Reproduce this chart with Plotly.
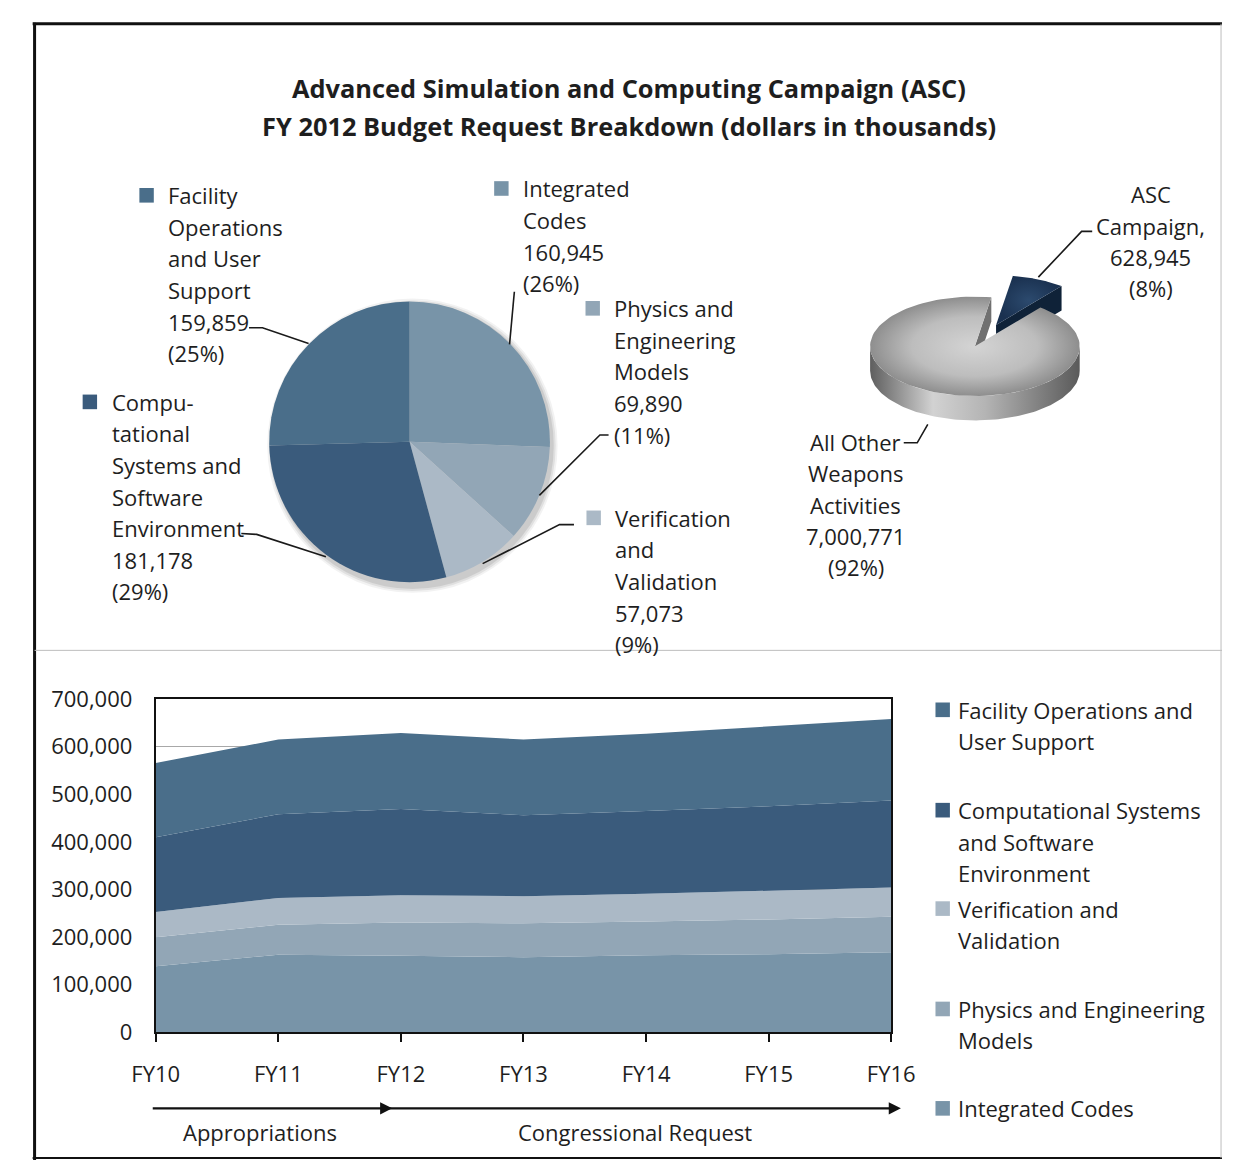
import numpy as np
import plotly.graph_objects as go

W, H = 1246, 1174
FONT = "Open Sans"
INK = "#1e1e1e"
BODY = 22

# ---- data (dollars in thousands) ----
years = ["FY10", "FY11", "FY12", "FY13", "FY14", "FY15", "FY16"]
integrated_codes = [139000, 163000, 160945, 158000, 162000, 164000, 168000]
physics_eng_models = [61000, 63000, 69890, 71000, 71000, 73000, 75000]
verification_validation = [53000, 56000, 57073, 57000, 58000, 60000, 61000]
comp_systems_env = [157000, 176000, 181178, 170000, 174000, 178000, 183000]
facility_ops = [156000, 157000, 159859, 159000, 162000, 167000, 171000]

asc_campaign_total = 628945
other_weapons_activities = 7000771

y_ticks = [0, 100000, 200000, 300000, 400000, 500000, 600000, 700000]

c_ic = "#7894A8"
c_pem = "#92A6B6"
c_vv = "#ABB9C6"
c_csse = "#3A5B7C"
c_fo = "#4A6E8A"

FY12 = years.index("FY12")


def px(x):
    return x / W


def py(y):
    return 1 - y / H


annotations = []
shapes = []


def text_block(lines, x, y0, step=32.4, anchor="left", size=BODY, bold=False):
    for i, s in enumerate(lines):
        annotations.append(dict(
            x=px(x), y=py(y0 + i * step), xref="paper", yref="paper",
            text=f"<b>{s}</b>" if bold else s, showarrow=False,
            xanchor=anchor, yanchor="middle",
            font=dict(family=FONT, size=size, color=INK)))


def swatch(x, yc, color, size=15):
    shapes.append(dict(type="rect", xref="paper", yref="paper",
                       x0=px(x), x1=px(x + size), y0=py(yc - size / 2), y1=py(yc + size / 2),
                       fillcolor=color, line=dict(width=0)))


def leader(points, color="#1a1a1a", width=1.6):
    path = "M " + " L ".join(f"{px(x):.5f},{py(y):.5f}" for x, y in points)
    shapes.append(dict(type="path", xref="paper", yref="paper", path=path,
                       line=dict(color=color, width=width)))


def line(x0, y0, x1, y1, color, width):
    shapes.append(dict(type="line", xref="paper", yref="paper",
                       x0=px(x0), y0=py(y0), x1=px(x1), y1=py(y1),
                       line=dict(color=color, width=width)))


fig = go.Figure()

# ---- stacked area chart ----
series = [
    ("Integrated Codes", integrated_codes, c_ic),
    ("Physics and Engineering Models", physics_eng_models, c_pem),
    ("Verification and Validation", verification_validation, c_vv),
    ("Computational Systems and Software Environment", comp_systems_env, c_csse),
    ("Facility Operations and User Support", facility_ops, c_fo),
]
for name, vals, col in series:
    fig.add_trace(go.Scatter(
        x=years, y=vals, name=name, stackgroup="one", mode="lines",
        line=dict(width=0, color=col), fillcolor=col, showlegend=False,
        xaxis="x", yaxis="y"))

# ---- FY 2012 breakdown pie ----
pie_labels = ["Integrated Codes", "Physics and Engineering Models",
              "Verification and Validation",
              "Computational Systems and Software Environment",
              "Facility Operations and User Support"]
pie_values = [integrated_codes[FY12], physics_eng_models[FY12],
              verification_validation[FY12], comp_systems_env[FY12],
              facility_ops[FY12]]
pie_colors = [c_ic, c_pem, c_vv, c_csse, c_fo]
pie_total = sum(pie_values)

pie_cx, pie_cy, pie_r = 401, 437, 146
# soft drop shadow behind the pie
for grow, alpha in [(5, 0.05), (3, 0.07), (1, 0.09)]:
    shapes.append(dict(type="circle", xref="paper", yref="paper", layer="below",
                       x0=px(pie_cx + 3 - pie_r - grow), x1=px(pie_cx + 3 + pie_r + grow),
                       y0=py(pie_cy + 4 + pie_r + grow), y1=py(pie_cy + 4 - pie_r - grow),
                       fillcolor=f"rgba(0,0,0,{alpha})", line=dict(width=0)))

fig.add_trace(go.Pie(
    labels=pie_labels, values=pie_values, sort=False, direction="clockwise",
    rotation=0, textinfo="none", hoverinfo="label+value+percent",
    marker=dict(colors=pie_colors, line=dict(width=0)),
    domain=dict(x=[px(pie_cx - pie_r), px(pie_cx + pie_r)],
                y=[py(pie_cy + pie_r), py(pie_cy - pie_r)]),
    showlegend=False))


def pct(v, tot):
    return f"({round(100 * v / tot):d}%)"


def num(v):
    return f"{v:,}"


iv = dict(zip(pie_labels, pie_values))
text_block(["Facility", "Operations", "and User", "Support",
            num(iv[pie_labels[4]]), pct(iv[pie_labels[4]], pie_total)], 148, 184)
swatch(120, 184, c_fo)
text_block(["Integrated", "Codes", num(iv[pie_labels[0]]),
            pct(iv[pie_labels[0]], pie_total)], 517, 177)
swatch(489, 177, c_ic)
text_block(["Physics and", "Engineering", "Models", num(iv[pie_labels[1]]),
            pct(iv[pie_labels[1]], pie_total)], 612, 300)
swatch(584, 300, c_pem)
text_block(["Verification", "and", "Validation", num(iv[pie_labels[2]]),
            pct(iv[pie_labels[2]], pie_total)], 613, 515)
swatch(585, 515, c_vv)
text_block(["Compu-", "tational", "Systems and", "Software", "Environment",
            num(iv[pie_labels[3]]), pct(iv[pie_labels[3]], pie_total)], 89, 396)
swatch(61, 396, c_csse)

leader([(234, 320), (248, 320), (296, 336)])
leader([(510, 283), (505, 337)])
leader([(608, 430), (599, 430), (536, 492)])
leader([(572, 522), (557, 522), (477, 562)])
leader([(226, 531), (242, 532), (314, 555)])

# ---- ASC share of weapons activities (tilted pie) ----
w_total = asc_campaign_total + other_weapons_activities
asc_span = 360.0 * asc_campaign_total / w_total
a_start = 9.0
a_end = a_start + asc_span
cx, cy, ra, rb, th = 989.0, 339.0, 109.0, 51.0, 25.0
ox, oy = 22.0, -22.0


def rim(t_deg, dz=0.0, dx=0.0, dy=0.0):
    t = np.radians(t_deg)
    return cx + dx + ra * np.sin(t), cy + dy - rb * np.cos(t) + dz


def arc(t0, t1, dz=0.0, dx=0.0, dy=0.0, n=120):
    ts = np.linspace(t0, t1, n)
    xs, ys = rim(ts, dz, dx, dy)
    return list(xs), list(ys)


def poly(xs, ys, **kw):
    fig.add_trace(go.Scatter(x=xs, y=ys, mode="lines", fill="toself",
                             line=dict(width=0), hoverinfo="skip",
                             showlegend=False, xaxis="x2", yaxis="y2", **kw))


# exploded ASC slice: visible cut face, then top
ex, ey = rim(a_end, 0, ox, oy)
poly([cx + ox, ex, ex, cx + ox, cx + ox], [cy + oy, ey, ey + th, cy + oy + th, cy + oy],
     fillcolor="#0f2238")
xs, ys = arc(a_start, a_end, 0, ox, oy)
poly([cx + ox] + xs + [cx + ox], [cy + oy] + ys + [cy + oy],
     fillgradient=dict(type="radial", colorscale=[[0, "#2c4a6e"], [1, "#1a3150"]]))

# other activities: front wall, inner cut face, top
xs_t, ys_t = arc(90, 270)
xs_b, ys_b = arc(270, 90, th)
poly(xs_t + xs_b + [xs_t[0]], ys_t + ys_b + [ys_t[0]],
     fillgradient=dict(type="horizontal",
                       colorscale=[[0, "#5e5e5e"], [0.3, "#d2d2d2"], [0.55, "#b4b4b4"],
                                   [1, "#5a5a5a"]]))
sx, sy = rim(a_start)
poly([cx, sx, sx, cx, cx], [cy, sy, sy + th, cy + th, cy], fillcolor="#707070")
xs, ys = arc(a_end, 360 + a_start)
poly([cx] + xs + [cx], [cy] + ys + [cy],
     fillgradient=dict(type="radial",
                       colorscale=[[0, "#d4d4d4"], [0.6, "#bdbdbd"], [1, "#8e8e8e"]]))

text_block(["ASC", "Campaign,", num(asc_campaign_total),
            pct(asc_campaign_total, w_total)], 1172, 183, step=32.2, anchor="center")
text_block(["All Other", "Weapons", "Activities", num(other_weapons_activities),
            pct(other_weapons_activities, w_total)], 865, 437, step=32.2, anchor="center")
leader([(1111, 221), (1100, 221), (1055, 268)])
leader([(915, 438), (929, 438), (940, 419)])

# ---- titles ----
text_block(["Advanced Simulation and Computing Campaign (ASC)",
            "FY 2012 Budget Request Breakdown (dollars in thousands)"],
           629, 74, step=39, anchor="center", size=25.4, bold=True)

# ---- legend for the area chart ----
legend_items = [
    (["Facility Operations and", "User Support"], c_fo, 712),
    (["Computational Systems", "and Software", "Environment"], c_csse, 815),
    (["Verification and", "Validation"], c_vv, 916),
    (["Physics and Engineering", "Models"], c_pem, 1019),
    (["Integrated Codes"], c_ic, 1121),
]
for lines, col, y0 in legend_items:
    text_block(lines, 969, y0, step=32.3)
    swatch(948, y0, col)

# ---- appropriation / request arrows ----
for x_tail, x_head in [(142, 383), (392, 912)]:
    annotations.append(dict(x=px(x_head), y=py(1121), xref="paper", yref="paper",
                            ax=x_tail - x_head, ay=0, text="", showarrow=True,
                            arrowhead=2, arrowsize=1.1, arrowwidth=2.2,
                            arrowcolor="#111111", standoff=0))
text_block(["Appropriations"], 245, 1145, anchor="center")
text_block(["Congressional Request"], 635, 1145, anchor="center")

# ---- frame and divider ----
line(9, 8, 1246, 8, "#111111", 3)
line(11, 7, 11, 1174, "#111111", 3)
line(9, 1172, 1246, 1172, "#111111", 2)
line(1245, 8, 1245, 1172, "#bdbdbd", 1)
line(11, 651, 1246, 651, "#bdbdbd", 1)

fig.update_layout(
    width=W, height=H, margin=dict(l=0, r=0, t=0, b=0),
    paper_bgcolor="white", plot_bgcolor="rgba(0,0,0,0)",
    showlegend=False, font=dict(family=FONT, size=BODY, color=INK),
    annotations=annotations, shapes=shapes,
    xaxis=dict(domain=[px(137), px(902)], type="category", range=[0, 6],
               anchor="y", showline=True, linecolor="#111111", linewidth=2,
               mirror=True, ticks="outside", ticklen=8, tickwidth=2,
               tickcolor="#111111", showgrid=False, ticklabelstandoff=13,
               tickfont=dict(family=FONT, size=BODY, color=INK)),
    yaxis=dict(domain=[py(1043), py(701)], range=[0, 700000], anchor="x",
               tickvals=y_ticks, tickformat=",", showgrid=True,
               gridcolor="#a8a8a8", gridwidth=1, zeroline=False,
               showline=True, linecolor="#111111", linewidth=2, mirror=True,
               ticks="", ticklabelstandoff=17,
               tickfont=dict(family=FONT, size=BODY, color=INK)),
    xaxis2=dict(domain=[px(840), px(1140)], range=[840, 1140], anchor="y2",
                visible=False, fixedrange=True),
    yaxis2=dict(domain=[py(440), py(250)], range=[440, 250], anchor="x2",
                visible=False, fixedrange=True),
)

# no page margin around the figure
page_js = """
[document.documentElement, document.body].forEach(function(el){
  el.style.margin = '0'; el.style.padding = '0'; el.style.overflow = 'hidden';
});
"""
fig.write_html("out.html", post_script=page_js)
